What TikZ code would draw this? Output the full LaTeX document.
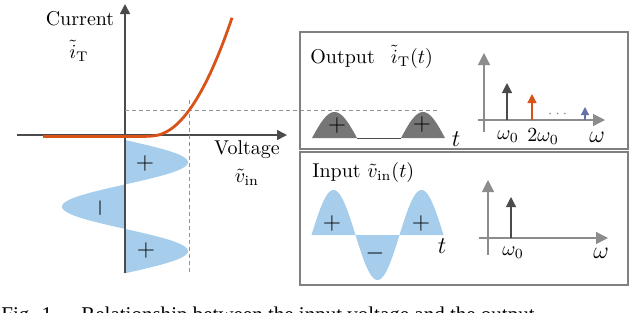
\documentclass[tikz,border=0pt]{standalone}
\usepackage{fontspec}
\usepackage{amsmath}
\usetikzlibrary{arrows.meta}
\newfontfamily\captionserif{Liberation Serif}
\definecolor{curveorange}{RGB}{217,83,25}
\definecolor{sineblue}{RGB}{166,206,236}
\definecolor{humpgray}{RGB}{118,118,118}
\definecolor{axisgray}{RGB}{140,140,140}
\definecolor{axisdark}{RGB}{75,75,75}
\definecolor{harmblue}{RGB}{100,112,168}
\newcommand{\iT}{\tilde{i}_{\mathrm{T}}}
\newcommand{\vin}{\tilde{v}_{\mathrm{in}}}

\begin{document}
\begin{tikzpicture}[
    x=0.5pt, y=-0.5pt,
    axis/.style={draw=axisdark, line width=0.8pt,
                 -{Triangle[length=5pt, width=5pt]}},
    specaxis/.style={draw=axisgray, line width=0.6pt,
                     -{Triangle[length=6pt, width=6pt]}},
    harm/.style={line width=0.6pt, -{Triangle[length=5pt, width=5pt]}},
    guide/.style={draw=gray!85, line width=0.4pt, dash pattern=on 2pt off 1.5pt},
    panel/.style={draw=gray, line width=0.8pt},
    sign/.style={font=\large, inner sep=0pt},
    lbl/.style={inner sep=0pt}
  ]
  \useasboundingbox (0,0) rectangle (640,312);

  % transfer characteristic
  \fill[sineblue] plot[domain=0:133.3, samples=120]
    ({125+63*sin(4.0513*\x)}, {140+\x}) -- cycle;

  \coordinate (hleft) at (17,135);
  \coordinate (hright) at (287,135);
  \coordinate (vbot) at (125,273);
  \coordinate (vtop) at (125,4);
  \draw[axis] (hleft) -- (hright);
  \draw[axis] (vbot) -- (vtop);

  \coordinate (knee) at (189,110);
  \coordinate (kneetop) at (189,100);
  \coordinate (kneebot) at (189,275);
  \coordinate (kneeaxis) at (125,110);
  \coordinate (kneeout) at (438,110);
  \draw[guide] (kneetop) -- (kneebot);
  \draw[guide] (kneeaxis) -- (kneeout);

  \coordinate (cstart) at (43,136.5);
  \coordinate (czero) at (125,136.5);
  \draw[curveorange, line width=1.4pt] (cstart) -- (czero)
    -- plot[domain=0:107, samples=60]
    ({125+\x}, {136.5-0.0184*(0.5*((\x-27)+sqrt((\x-27)^2+100)))^2});

  \node[lbl] (curlbl) at (80,19) {Current};
  \node[lbl] (curvar) at (79,51) {$\iT$};
  \node[lbl] (voltlbl) at (247,150) {Voltage};
  \node[lbl] (voltvar) at (247,177) {$\vin$};

  \node[sign] (lplus1) at (145,163) {$+$};
  \node[sign, rotate=90] (lminus) at (100,208) {$-$};
  \node[sign] (lplus2) at (146,250) {$+$};

  % output panel
  \draw[panel] (300,32) rectangle (628,149);
  \node[lbl, anchor=west] (outtitle) at (310,57) {Output\hspace{8pt}$\iT(t)$};

  \fill[humpgray] plot[domain=0:45, samples=40]
    ({312+\x}, {138-26*sin(4*\x)}) -- cycle;
  \fill[humpgray] plot[domain=0:44, samples=40]
    ({401+\x}, {138-26*sin(4.0909*\x)}) -- cycle;
  \coordinate (hump1end) at (357,138);
  \coordinate (hump2start) at (401,138);
  \draw[axisdark, line width=0.5pt] (hump1end) -- (hump2start);
  \node[sign] (oplus1) at (337,125) {$+$};
  \node[sign] (oplus2) at (422,124) {$+$};
  \node[lbl, font=\large] (otime) at (456,139) {$t$};

  \coordinate (oybot) at (484,132);
  \coordinate (oytop) at (484,53);
  \coordinate (oxleft) at (478,120);
  \coordinate (oxright) at (605,120);
  \draw[specaxis] (oybot) -- (oytop);
  \draw[specaxis] (oxleft) -- (oxright);

  \coordinate (h1base) at (507,120);
  \coordinate (h1tip) at (507,83);
  \coordinate (h2base) at (532,120);
  \coordinate (h2tip) at (532,94);
  \coordinate (hnbase) at (585,120);
  \coordinate (hntip) at (585,107);
  \draw[harm, axisdark] (h1base) -- (h1tip);
  \draw[harm, curveorange, -{Triangle[length=4.5pt, width=4.5pt]}] (h2base) -- (h2tip);
  \draw[harm, harmblue, -{Triangle[length=4pt, width=4pt]}] (hnbase) -- (hntip);
  \node[lbl, text=gray, font=\scriptsize] (odots) at (559,114) {$\cdots$};

  \node[lbl] (ow0) at (508,137) {$\omega_0$};
  \node[lbl] (ow2) at (543,137) {$2\omega_0$};
  \node[lbl, font=\large] (ow) at (597,137) {$\omega$};

  % input panel
  \draw[panel] (300,152) rectangle (628,285);
  \node[lbl, anchor=west] (intitle) at (312,172) {Input $\vin(t)$};

  \fill[sineblue] plot[domain=0:132, samples=120]
    ({311.5+\x}, {235-45*sin(4.0909*\x)}) -- cycle;
  \node[sign] (iplus1) at (332,223) {$+$};
  \node[sign] (iminus) at (375,253) {$-$};
  \node[sign] (iplus2) at (421,223) {$+$};
  \node[lbl, font=\large] (itime) at (442,246) {$t$};

  \coordinate (iybot) at (488,255);
  \coordinate (iytop) at (488,180);
  \coordinate (ixleft) at (479,238);
  \coordinate (ixright) at (608,238);
  \draw[specaxis] (iybot) -- (iytop);
  \draw[specaxis] (ixleft) -- (ixright);
  \coordinate (i1base) at (511,238);
  \coordinate (i1tip) at (511,197);
  \draw[harm, axisdark] (i1base) -- (i1tip);

  \node[lbl] (iw0) at (513,253) {$\omega_0$};
  \node[lbl, font=\large] (iw) at (601,253) {$\omega$};

  % caption, cut by the lower edge
  \node[lbl, anchor=base west, font=\captionserif\fontsize{10.5}{12}\selectfont]
    (caption) at (1,321)
    {Fig. 1.\hspace{12pt}Relationship between the input voltage and the output};

\end{tikzpicture}
\end{document}
